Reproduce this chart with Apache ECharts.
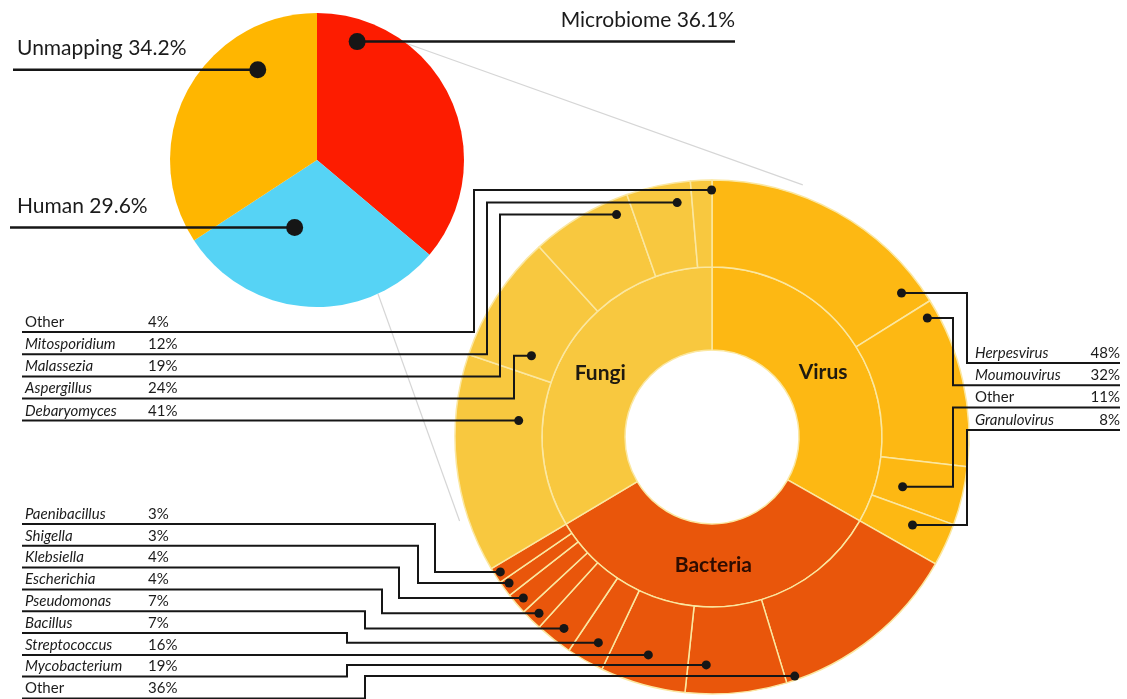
<!DOCTYPE html>
<html>
<head>
<meta charset="utf-8">
<title>Read composition</title>
<script src="https://cdn.jsdelivr.net/npm/echarts@6/dist/echarts.min.js"></script>
<style>
  html, body { margin: 0; padding: 0; background: #fff; }
  #main { width: 1127px; height: 699px; }
</style>
</head>
<body>
<div id="main"></div>
<script>
// reads: share of all reads (%)
var readNames = ['Microbiome', 'Human', 'Unmapping'];
var readValues = [36.1, 29.6, 34.2];

// microbiome kingdoms, genera given as % of their kingdom
var groupNames = ['Virus', 'Bacteria', 'Fungi'];
var virusNames = ['Herpesvirus', 'Moumouvirus', 'Other', 'Granulovirus'];
var virusValues = [48, 32, 11, 8];
var bacteriaNames = ['Other', 'Mycobacterium', 'Streptococcus', 'Bacillus', 'Pseudomonas',
                     'Escherichia', 'Klebsiella', 'Shigella', 'Paenibacillus'];
var bacteriaValues = [36, 19, 16, 7, 7, 4, 4, 3, 3];
var fungiNames = ['Debaryomyces', 'Aspergillus', 'Malassezia', 'Mitosporidium', 'Other'];
var fungiValues = [41, 24, 19, 12, 4];

// colours
var readColors = ['#fd1c00', '#56d3f5', '#ffb600'];
var groupColors = ['#fdb813', '#e9560b', '#f8c83f'];
var INK = '#161616';

// geometry
var PIE_C = [317, 160], PIE_R = 147;
var SB_C = [712, 437];

// leader anchors inside each slice: [fraction along slice (clockwise), radius]
var readAnchor = [[0.144, 125], [0.64, 71], [0.73, 108]];
var virusAnchor = [[0.91, 238], [0.08, 246], [0.6, 197], [0.39, 219]];
var bacteriaAnchor = [[0.95, 253], [0.8, 228], [0.53, 227], [0.42, 235], [0.46, 242],
                      [0.45, 247], [0.5, 248], [0.64, 250], [0.53, 251]];
var fungiAnchor = [[0.72, 194], [0.19, 198], [0.83, 242], [0.75, 237], [0.98, 247]];
// x of the vertical part of each leader (null = straight)
var virusElbow = [967, 953, 953, 967];
var bacteriaElbow = [365, 347, null, 347, 365, 382, 399, 418, 435];
var fungiElbow = [null, 514, 500, 487, 474];

function sum(a) { return a.reduce(function (s, v) { return s + v; }, 0); }
function polar(c, deg, r) {
    var a = deg * Math.PI / 180;
    return [c[0] + r * Math.cos(a), c[1] - r * Math.sin(a)];
}
function spansOf(values, total, from) {
    var ang = from;
    return values.map(function (v) {
        var s = ang;
        ang -= v / total * 360;
        return [s, ang];
    });
}
function anchorPoint(c, span, anc) {
    return polar(c, span[0] + anc[0] * (span[1] - span[0]), anc[1]);
}

// sunburst data
var leafLists = [[virusNames, virusValues], [bacteriaNames, bacteriaValues], [fungiNames, fungiValues]];
var sunData = groupNames.map(function (g, gi) {
    return {
        name: g,
        itemStyle: { color: groupColors[gi] },
        label: gi === 1 ? { color: '#2e0c00' } : {},
        children: leafLists[gi][0].map(function (n, i) {
            return { name: n, value: leafLists[gi][1][i], itemStyle: { color: groupColors[gi] } };
        })
    };
});

// angles the sunburst gives each leaf (start 90deg, clockwise, no sorting)
var leafTotal = sum(virusValues) + sum(bacteriaValues) + sum(fungiValues);
var virusSpan = spansOf(virusValues, leafTotal, 90);
var bacteriaSpan = spansOf(bacteriaValues, leafTotal, virusSpan[virusSpan.length - 1][1]);
var fungiSpan = spansOf(fungiValues, leafTotal, bacteriaSpan[bacteriaSpan.length - 1][1]);
var readSpan = spansOf(readValues, sum(readValues), 90);

var graphics = [];
function line(points, w, color, z) {
    graphics.push({ type: 'polyline', z: z || 100, silent: true, shape: { points: points },
        style: { stroke: color || INK, lineWidth: w || 2, fill: null } });
}
function dot(p, r) {
    graphics.push({ type: 'circle', z: 101, silent: true, shape: { cx: p[0], cy: p[1], r: r },
        style: { fill: INK } });
}
function text(str, x, y, font, align) {
    graphics.push({ type: 'text', z: 101, silent: true, x: x, y: y,
        style: { text: str, font: font, fill: '#1b1b1b',
                 textAlign: align, align: align, textVerticalAlign: 'middle', verticalAlign: 'middle' } });
}
function genusFont(name) { return (name === 'Other' ? '' : 'italic ') + '15px Lato'; }

// zoom guides from the microbiome slice to the ring
var g1a = polar(PIE_C, 52.4, PIE_R), g1b = polar(SB_C, 70.2, 268);
var g2a = polar(PIE_C, -65.5, PIE_R), g2b = polar(SB_C, 198.4, 266);
line([g1a, g1b], 1.2, '#d6d6d6', 1);
line([g2a, g2b], 1.2, '#d6d6d6', 1);

// pie callouts
var readLineEnd = [735, 10, 13];
readNames.forEach(function (n, i) {
    var p = anchorPoint(PIE_C, readSpan[i], readAnchor[i]);
    var end = readLineEnd[i];
    line([[p[0], p[1]], [end, p[1]]], 2.5);
    dot(p, 8.5);
    var right = end > p[0];
    text(n + ' ' + readValues[i].toFixed(1) + '%', right ? end : 17, p[1] - 21,
         '21px Lato', right ? 'right' : 'left');
});

// left tables: fungi (rows top-down = reverse of data) and bacteria
function leftTable(names, values, spans, anchors, elbows, topY, step) {
    var n = names.length;
    names.forEach(function (name, i) {
        var row = n - 1 - i;
        var rowY = topY + row * step;
        var p = anchorPoint(SB_C, spans[i], anchors[i]);
        if (elbows[i] == null) {
            line([[22, p[1]], [p[0], p[1]]]);
        } else {
            line([[22, rowY], [elbows[i], rowY], [elbows[i], p[1]], [p[0], p[1]]]);
        }
        dot(p, 4.5);
        text(name, 25, rowY - 10, genusFont(name), 'left');
        text(values[i] + '%', 148, rowY - 10, '15px Lato', 'left');
    });
}
leftTable(fungiNames, fungiValues, fungiSpan, fungiAnchor, fungiElbow, 332, 22.2);
leftTable(bacteriaNames, bacteriaValues, bacteriaSpan, bacteriaAnchor, bacteriaElbow, 524, 21.8);

// right table: virus (rows in data order)
virusNames.forEach(function (name, i) {
    var rowY = 363 + i * 22.3;
    var p = anchorPoint(SB_C, virusSpan[i], virusAnchor[i]);
    line([[p[0], p[1]], [virusElbow[i], p[1]], [virusElbow[i], rowY], [1120, rowY]]);
    dot(p, 4.5);
    text(name, 975, rowY - 10, genusFont(name), 'left');
    text(virusValues[i] + '%', 1120, rowY - 10, '15px Lato', 'right');
});

var chart = echarts.init(document.getElementById('main'));
var option = {
    backgroundColor: '#ffffff',
    animation: false,
    series: [
        {
            type: 'pie',
            center: PIE_C,
            radius: PIE_R,
            startAngle: 90,
            silent: true,
            label: { show: false },
            labelLine: { show: false },
            itemStyle: { borderWidth: 0 },
            data: readNames.map(function (n, i) {
                return { name: n, value: readValues[i], itemStyle: { color: readColors[i] } };
            })
        },
        {
            type: 'sunburst',
            center: SB_C,
            radius: [87, 257],
            sort: null,
            startAngle: 90,
            nodeClick: false,
            silent: true,
            itemStyle: { borderColor: '#fbe7a0', borderWidth: 1.5 },
            levels: [
                {},
                {
                    r0: 87, r: 170,
                    label: { show: true, rotate: 0, fontSize: 21, fontWeight: 'bold',
                             fontFamily: 'Lato', color: '#1f1a10' }
                },
                { r0: 170, r: 257, label: { show: false } }
            ],
            data: sunData
        }
    ],
    graphic: graphics
};
chart.setOption(option);
</script>
</body>
</html>
